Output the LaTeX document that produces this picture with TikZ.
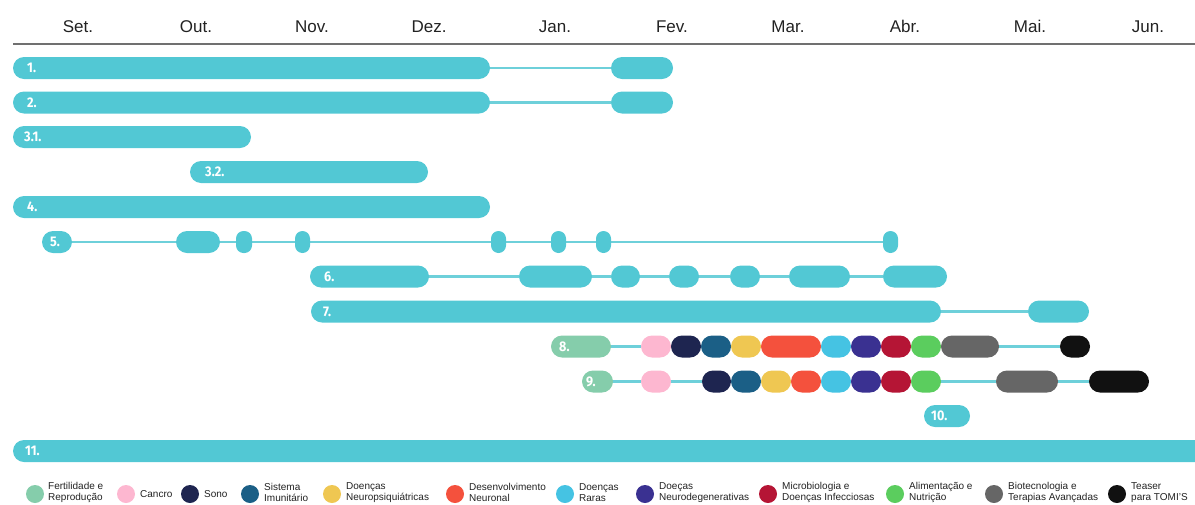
\documentclass[tikz,border=0pt]{standalone}
\usepackage{fontspec}
\setmainfont{Liberation Sans}
\newfontfamily\lblfamily[FakeStretch=0.9]{Fira Sans}
\usetikzlibrary{backgrounds}
\definecolor{tealbar}{RGB}{82,200,212}
\definecolor{linecol}{RGB}{110,208,218}
\definecolor{hdrline}{RGB}{112,112,112}
\definecolor{cFert}{RGB}{133,205,171}
\definecolor{cCanc}{RGB}{253,183,208}
\definecolor{cSono}{RGB}{30,37,80}
\definecolor{cSist}{RGB}{27,95,134}
\definecolor{cNeur}{RGB}{239,199,82}
\definecolor{cDes}{RGB}{244,81,61}
\definecolor{cRar}{RGB}{69,195,227}
\definecolor{cDeg}{RGB}{58,49,145}
\definecolor{cMic}{RGB}{181,21,53}
\definecolor{cAli}{RGB}{91,205,94}
\definecolor{cBio}{RGB}{102,102,102}
\definecolor{cTea}{RGB}{17,17,17}
\definecolor{txt}{RGB}{34,34,34}
\tikzset{
  pill/.style={rectangle, rounded corners=11pt, minimum height=22pt, inner sep=0pt, draw=none},
  thinpill/.style={rounded corners=7.5pt},
  conn/.style={draw=linecol, line width=2.5pt},
  hdr/.style={draw=hdrline, line width=2.5pt},
  month/.style={anchor=base, font=\fontsize{17}{20}\selectfont, text=txt, inner sep=0pt},
  lbl/.style={anchor=west, text=white, font=\lblfamily\bfseries\fontsize{14}{16}\selectfont, inner sep=0pt},
  dot/.style={circle, minimum size=18pt, inner sep=0pt, draw=none},
  legtxt/.style={anchor=west, align=left, inner sep=0pt, text=txt, font=\fontsize{10}{11}\selectfont},
}
\newcommand\pillat[6][]{\node[pill, fill=#6, minimum width={#4-#3}, #1] (#2) at ({(#3+#4)/2},#5) {};}
\begin{document}
\begin{tikzpicture}[x=1pt,y=-1pt]
\useasboundingbox (0,0) rectangle (1195,504);
% header
\coordinate (hl) at (13,44);
\coordinate (hr) at (1195,44);
\draw[hdr] (hl) -- (hr);
\node[month] (mSet) at (78,32.5) {Set.};
\node[month] (mOut) at (196,32.5) {Out.};
\node[month] (mNov) at (312,32.5) {Nov.};
\node[month] (mDez) at (429,32.5) {Dez.};
\node[month] (mJan) at (555,32.5) {Jan.};
\node[month] (mFev) at (672,32.5) {Fev.};
\node[month] (mMar) at (788,32.5) {Mar.};
\node[month] (mAbr) at (905,32.5) {Abr.};
\node[month] (mMai) at (1030,32.5) {Mai.};
\node[month] (mJun) at (1148,32.5) {Jun.};
% row 1
\pillat{r1a}{13}{490}{68}{tealbar}
\pillat{r1b}{611}{673}{68}{tealbar}
\node[lbl] (l1) at (27,68) {1.};
% row 2
\pillat{r2a}{13}{490}{102.5}{tealbar}
\pillat{r2b}{611}{673}{102.5}{tealbar}
\node[lbl] (l2) at (27,102.5) {2.};
% row 3.1
\pillat{r3}{13}{251}{137}{tealbar}
\node[lbl] (l31) at (24,137) {3.1.};
% row 3.2
\pillat{r32}{190}{428}{172}{tealbar}
\node[lbl] (l32) at (205,172) {3.2.};
% row 4
\pillat{r4}{13}{490}{207}{tealbar}
\node[lbl] (l4) at (27,207) {4.};
% row 5
\pillat{r5a}{42}{72}{242}{tealbar}
\node[lbl] (l5) at (50,242) {5.};
\pillat{r5b}{176}{220}{242}{tealbar}
\pillat[thinpill]{r5c}{236}{252}{242}{tealbar}
\pillat[thinpill]{r5d}{295}{310}{242}{tealbar}
\pillat[thinpill]{r5e}{491}{506}{242}{tealbar}
\pillat[thinpill]{r5f}{551}{566}{242}{tealbar}
\pillat[thinpill]{r5g}{596}{611}{242}{tealbar}
\pillat[thinpill]{r5h}{883}{898}{242}{tealbar}
% row 6
\pillat{r6a}{310}{429}{276.5}{tealbar}
\node[lbl] (l6) at (324,276.5) {6.};
\pillat{r6b}{519}{592}{276.5}{tealbar}
\pillat{r6c}{611}{640}{276.5}{tealbar}
\pillat{r6d}{669}{699}{276.5}{tealbar}
\pillat{r6e}{730}{760}{276.5}{tealbar}
\pillat{r6f}{789}{850}{276.5}{tealbar}
\pillat{r6g}{883}{947}{276.5}{tealbar}
% row 7
\pillat{r7a}{311}{941}{311.5}{tealbar}
\node[lbl] (l7) at (323,311.5) {7.};
\pillat{r7b}{1028}{1089}{311.5}{tealbar}
% row 8
\pillat{r8a}{551}{611}{346.5}{cFert}
\node[lbl] (l8) at (559,346.5) {8.};
\pillat{r8b}{641}{671}{346.5}{cCanc}
\pillat{r8c}{671}{701}{346.5}{cSono}
\pillat{r8d}{701}{731}{346.5}{cSist}
\pillat{r8e}{731}{761}{346.5}{cNeur}
\pillat{r8f}{761}{821}{346.5}{cDes}
\pillat{r8g}{821}{851}{346.5}{cRar}
\pillat{r8h}{851}{881}{346.5}{cDeg}
\pillat{r8i}{881}{911}{346.5}{cMic}
\pillat{r8j}{911}{941}{346.5}{cAli}
\pillat{r8k}{941}{999}{346.5}{cBio}
\pillat{r8l}{1060}{1090}{346.5}{cTea}
% row 9
\pillat{r9a}{582}{613}{381.5}{cFert}
\node[lbl] (l9) at (586,381.5) {9.};
\pillat{r9b}{641}{671}{381.5}{cCanc}
\pillat{r9c}{702}{731}{381.5}{cSono}
\pillat{r9d}{731}{761}{381.5}{cSist}
\pillat{r9e}{761}{791}{381.5}{cNeur}
\pillat{r9f}{791}{821}{381.5}{cDes}
\pillat{r9g}{821}{851}{381.5}{cRar}
\pillat{r9h}{851}{881}{381.5}{cDeg}
\pillat{r9i}{881}{911}{381.5}{cMic}
\pillat{r9j}{911}{941}{381.5}{cAli}
\pillat{r9k}{996}{1058}{381.5}{cBio}
\pillat{r9l}{1089}{1149}{381.5}{cTea}
% row 10
\pillat{r10}{924}{970}{416}{tealbar}
\node[lbl] (l10) at (931,416) {10.};
% row 11
\pillat{r11}{13}{1215}{451}{tealbar}
\node[lbl] (l11) at (25,451) {11.};
% connectors
\begin{scope}[on background layer]
\draw[conn] (r1a.east) -- (r1b.west);
\draw[conn] (r2a.east) -- (r2b.west);
\draw[conn] (r5a.east) -- (r5b.west) (r5b.east) -- (r5c.west) (r5c.east) -- (r5d.west)
  (r5d.east) -- (r5e.west) (r5e.east) -- (r5f.west) (r5f.east) -- (r5g.west) (r5g.east) -- (r5h.west);
\draw[conn] (r6a.east) -- (r6b.west) (r6b.east) -- (r6c.west) (r6c.east) -- (r6d.west)
  (r6d.east) -- (r6e.west) (r6e.east) -- (r6f.west) (r6f.east) -- (r6g.west);
\draw[conn] (r7a.east) -- (r7b.west);
\draw[conn] (r8a.east) -- (r8b.west) (r8k.east) -- (r8l.west);
\draw[conn] (r9a.east) -- (r9b.west) (r9b.east) -- (r9c.west) (r9j.east) -- (r9k.west) (r9k.east) -- (r9l.west);
\end{scope}
% legend
\node[dot, fill=cFert] (d1) at (35,494) {};
\node[legtxt] (t1) at (48,492.5) {Fertilidade e\\Reprodução};
\node[dot, fill=cCanc] (d2) at (126,494) {};
\node[legtxt] (t2) at (140,494.5) {Cancro};
\node[dot, fill=cSono] (d3) at (190,494) {};
\node[legtxt] (t3) at (204,494.5) {Sono};
\node[dot, fill=cSist] (d4) at (250,494) {};
\node[legtxt] (t4) at (264,492.5) {Sistema\\Imunitário};
\node[dot, fill=cNeur] (d5) at (332,494) {};
\node[legtxt] (t5) at (346,492.5) {Doenças\\Neuropsiquiátricas};
\node[dot, fill=cDes] (d6) at (455,494) {};
\node[legtxt] (t6) at (469,492.5) {Desenvolvimento\\Neuronal};
\node[dot, fill=cRar] (d7) at (565,494) {};
\node[legtxt] (t7) at (579,492.5) {Doenças\\Raras};
\node[dot, fill=cDeg] (d8) at (645,494) {};
\node[legtxt] (t8) at (659,492.5) {Doeças\\Neurodegenerativas};
\node[dot, fill=cMic] (d9) at (768,494) {};
\node[legtxt] (t9) at (782,492.5) {Microbiologia e\\Doenças Infecciosas};
\node[dot, fill=cAli] (d10) at (895,494) {};
\node[legtxt] (t10) at (909,492.5) {Alimentação e\\Nutrição};
\node[dot, fill=cBio] (d11) at (994,494) {};
\node[legtxt] (t11) at (1008,492.5) {Biotecnologia e\\Terapias Avançadas};
\node[dot, fill=cTea] (d12) at (1117,494) {};
\node[legtxt] (t12) at (1131,492.5) {Teaser\\para TOMI'S};
\end{tikzpicture}
\end{document}
